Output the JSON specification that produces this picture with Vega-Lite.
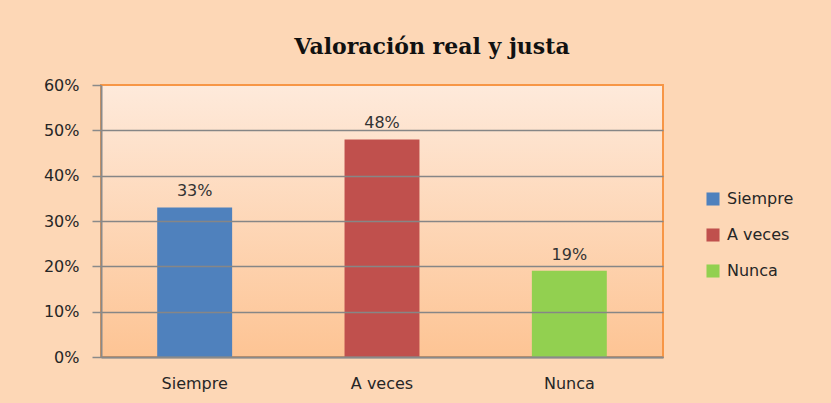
{
  "$schema": "https://vega.github.io/schema/vega-lite/v6.json",
  "autosize": {"type": "none"},
  "width": 562,
  "height": 272,
  "padding": {"left": 101, "top": 85, "right": 168, "bottom": 46},
  "background": "#FDD7B6",
  "title": {
    "text": "Valoración real  y justa",
    "font": "DejaVu Serif",
    "fontSize": 22,
    "fontWeight": "bold",
    "color": "#111111",
    "anchor": "middle",
    "dx": 50,
    "offset": 18
  },
  "data": {
    "values": [
      {"categoria": "Siempre", "valor": 0.33},
      {"categoria": "A veces", "valor": 0.48},
      {"categoria": "Nunca", "valor": 0.19}
    ]
  },
  "encoding": {
    "x": {
      "field": "categoria",
      "type": "nominal",
      "sort": ["Siempre", "A veces", "Nunca"],
      "scale": {"paddingInner": 0.6, "paddingOuter": 0.3},
      "axis": {
        "title": null,
        "labelAngle": 0,
        "labelFont": "DejaVu Sans",
        "labelFontSize": 16,
        "labelColor": "#262626",
        "labelPadding": 18,
        "ticks": false,
        "domainColor": "#8A8A8A",
        "domainWidth": 2,
        "zindex": 1
      }
    },
    "y": {
      "field": "valor",
      "type": "quantitative",
      "scale": {"domain": [0, 0.6], "nice": false},
      "axis": {
        "title": null,
        "values": [0, 0.1, 0.2, 0.3, 0.4, 0.5, 0.6],
        "format": ".0%",
        "labelFont": "DejaVu Sans",
        "labelFontSize": 16,
        "labelColor": "#262626",
        "labelPadding": 13,
        "tickSize": 9,
        "tickColor": "#8A8A8A",
        "tickWidth": 1.5,
        "domainColor": "#8A8A8A",
        "domainWidth": 2,
        "gridColor": "#868686",
        "gridWidth": 1.5,
        "gridOpacity": {"condition": {"test": "datum.value >= 0.6", "value": 0}, "value": 1},
        "zindex": 1
      }
    }
  },
  "layer": [
    {
      "mark": {"type": "bar"},
      "encoding": {
        "color": {
          "field": "categoria",
          "type": "nominal",
          "sort": ["Siempre", "A veces", "Nunca"],
          "scale": {"domain": ["Siempre", "A veces", "Nunca"], "range": ["#4F81BD", "#C0504D", "#92D050"]},
          "legend": {
            "title": null,
            "orient": "none",
            "legendX": 604,
            "legendY": 106,
            "symbolType": "square",
            "symbolSize": 170,
            "symbolStrokeWidth": 0,
            "labelFont": "DejaVu Sans",
            "labelFontSize": 16,
            "labelColor": "#262626",
            "rowPadding": 20,
            "labelOffset": 6
          }
        }
      }
    },
    {
      "mark": {"type": "text", "baseline": "bottom", "dy": -8, "font": "DejaVu Sans", "fontSize": 16, "color": "#333333"},
      "encoding": {
        "text": {"field": "valor", "type": "quantitative", "format": ".0%"}
      }
    }
  ],
  "config": {
    "view": {
      "fill": {
        "gradient": "linear",
        "x1": 0, "y1": 0, "x2": 0, "y2": 1,
        "stops": [
          {"offset": 0, "color": "#FEEADB"},
          {"offset": 1, "color": "#FDC494"}
        ]
      },
      "stroke": "#F79646",
      "strokeWidth": 2
    }
  }
}
